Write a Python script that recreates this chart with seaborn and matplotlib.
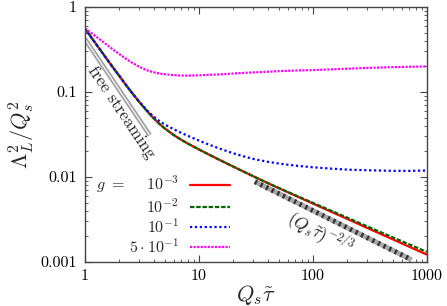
import numpy as np
import pandas as pd
import matplotlib
matplotlib.use("Agg")
import matplotlib.pyplot as plt
import seaborn as sns
from matplotlib.lines import Line2D

sns.set_style("ticks")
plt.rcParams["font.family"] = ["cmr10", "DejaVu Serif"]
plt.rcParams["mathtext.fontset"] = "cm"
plt.rcParams["axes.formatter.use_mathtext"] = True

# ---- data ----
tau = [1, 1.2, 1.4, 1.6, 1.8, 2, 2.3, 2.6, 3, 3.5, 4, 4.5, 5, 6, 7, 8, 10, 12, 15, 20, 25, 30,
       40, 50, 70, 100, 150, 200, 300, 500, 700, 1000]
g_1e3 = [0.56, 0.397, 0.298, 0.232, 0.187, 0.155, 0.120, 0.0969, 0.0762, 0.0597, 0.0492, 0.0422,
         0.0374, 0.0312, 0.0274, 0.0247, 0.0211, 0.0186, 0.0160, 0.01325, 0.01146, 0.01019,
         0.00849, 0.00740, 0.00603, 0.00486, 0.00381, 0.00321, 0.00251, 0.00185, 0.00151, 0.00122]
g_1e2 = [0.56, 0.397, 0.298, 0.232, 0.187, 0.155, 0.120, 0.0969, 0.0762, 0.0597, 0.0492, 0.0422,
         0.0374, 0.0312, 0.0274, 0.0247, 0.0211, 0.0186, 0.0160, 0.01325, 0.01146, 0.01019,
         0.00851, 0.00745, 0.00610, 0.00496, 0.00392, 0.00332, 0.00262, 0.00195, 0.00161, 0.00131]
g_1e1 = [0.56, 0.397, 0.298, 0.232, 0.187, 0.155, 0.120, 0.0970, 0.0768, 0.0610, 0.0515, 0.0455,
         0.0415, 0.0365, 0.0330, 0.0305, 0.0268, 0.0243, 0.0217, 0.0190, 0.0174, 0.0163,
         0.0151, 0.0144, 0.0136, 0.0130, 0.0125, 0.0122, 0.0120, 0.0118, 0.0118, 0.0119]
g_5e1 = [0.56, 0.47, 0.40, 0.35, 0.31, 0.28, 0.245, 0.22, 0.198, 0.18, 0.171, 0.165, 0.162,
         0.158, 0.156, 0.156, 0.157, 0.159, 0.161, 0.165, 0.168, 0.170,
         0.173, 0.176, 0.179, 0.181, 0.185, 0.188, 0.192, 0.196, 0.198, 0.200]
labels = [r"$g\ =\quad\;\, 10^{-3}$", r"$10^{-2}$", r"$10^{-1}$", r"$5\cdot 10^{-1}$"]
colors = ["#ff0000", "#006400", "#0000ff", "#ff00ff"]
dash_styles = [None, (2.0, 0.8), (1.0, 1.2), (1.0, 0.6)]

fs_x = [1.0, 3.7]          # free streaming guide
fs_y = [0.42, 0.031]
pl_x = [31, 734]           # (Q_s tau)^(-2/3) guide
pl_y = [0.0088, 0.00106]

xticks = [1, 10, 100, 1000]
xticklabels = ["1", "10", "100", "1000"]
yticks = [0.001, 0.01, 0.1, 1]
yticklabels = ["0.001", "0.01", "0.1", "1"]

# ---- figure ----
fig = plt.figure(figsize=(4.47, 3.06), dpi=100)
ax = fig.add_axes([0.190, 0.144, 0.765, 0.833])

# guide lines
sns.lineplot(x=fs_x, y=fs_y, ax=ax, color="#a0a0a0", lw=3.4, solid_capstyle="butt")
sns.lineplot(x=fs_x, y=fs_y, ax=ax, color="#f0f0f0", lw=1.0, solid_capstyle="butt")
sns.lineplot(x=pl_x, y=pl_y, ax=ax, color="#a8a8a8", lw=3.6, solid_capstyle="butt")
sns.lineplot(x=pl_x, y=pl_y, ax=ax, color="#333333", lw=3.6)
ax.lines[-1].set_dashes((0.45, 0.8))

series = [g_1e3, g_1e2, g_1e1, g_5e1]
handles = []
for ys, c, d in zip(series, colors, dash_styles):
    df = pd.DataFrame({"x": tau, "y": ys})
    sns.lineplot(data=df, x="x", y="y", ax=ax, color=c, lw=1.6)
    ln = ax.lines[-1]
    if d is not None:
        ln.set_dashes(d)
    h = Line2D([], [], color=c, lw=1.6)
    if d is not None:
        h.set_dashes(d)
    handles.append(h)

ax.set_xscale("log")
ax.set_yscale("log")
ax.set_xlim(1, 1000)
ax.set_ylim(0.001, 1)
ax.set_xticks(xticks)
ax.set_xticklabels(xticklabels)
ax.set_yticks(yticks)
ax.set_yticklabels(yticklabels)
ax.tick_params(which="both", direction="in", top=True, right=True, colors="#444444",
               labelcolor="black", labelsize=11.5)
ax.tick_params(which="major", length=5, width=0.8)
ax.tick_params(which="minor", length=2.5, width=0.6)
ax.tick_params(axis="x", pad=5)
ax.tick_params(axis="y", pad=6)
for s in ax.spines.values():
    s.set_color("#444444")
    s.set_linewidth(1.0)

ax.set_xlabel(r"$Q_s\tilde{\tau}$", fontsize=16, labelpad=0)
ax.set_ylabel(r"$\Lambda_L^2/Q_s^2$", fontsize=16, labelpad=2)

ax.text(2.1, 0.058, "free streaming", rotation=-56, rotation_mode="anchor",
        ha="center", va="center", fontsize=12.5)
ax.text(115, 0.0021, r"$(Q_s\tilde{\tau})^{-2/3}$", rotation=-27, rotation_mode="anchor",
        ha="center", va="center", fontsize=12.5)

leg = ax.legend(handles, labels, loc="upper right", bbox_to_anchor=(0.424, 0.345),
                frameon=False, markerfirst=False, borderaxespad=0, borderpad=0,
                handlelength=2.5, handletextpad=0.7, labelspacing=0.1, fontsize=11.5)

fig.savefig("out.png", dpi=100)
